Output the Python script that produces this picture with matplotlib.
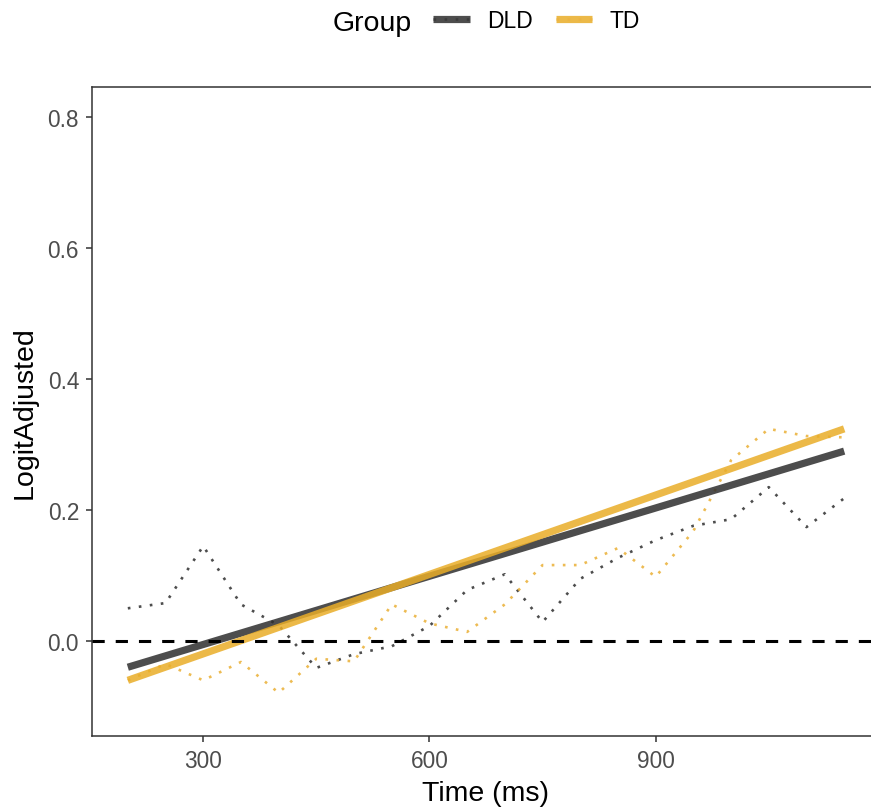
import matplotlib
matplotlib.use("Agg")
import matplotlib.pyplot as plt
from matplotlib.legend_handler import HandlerTuple

plt.rcParams['font.family'] = ['Liberation Sans', 'DejaVu Sans']

# time bins (ms)
time_ms = [200, 250, 300, 350, 400, 450, 500, 550, 600, 650,
           700, 750, 800, 850, 900, 950, 1000, 1050, 1100, 1150]

# mean adjusted logit per bin
dld_mean = [0.050, 0.058, 0.145, 0.056, 0.024, -0.041, -0.020, -0.008, 0.023, 0.078,
            0.102, 0.029, 0.095, 0.127, 0.154, 0.176, 0.186, 0.235, 0.174, 0.218]
td_mean = [-0.060, -0.035, -0.060, -0.032, -0.079, -0.027, -0.031, 0.056, 0.027, 0.014,
           0.056, 0.116, 0.116, 0.142, 0.098, 0.168, 0.276, 0.324, 0.313, 0.311]

# linear fit per group, value at first and last bin
fit_x = [200, 1150]
dld_fit = [-0.040, 0.290]
td_fit = [-0.060, 0.324]

groups = ['DLD', 'TD']
line_colors = {'DLD': '#2e2e2e', 'TD': '#e9ad28'}
dot_colors = {'DLD': '#3a3a3a', 'TD': '#ebb440'}

W, H = 871, 812
fig = plt.figure(figsize=(W / 100, H / 100), dpi=100)
ax = fig.add_axes([92 / W, 1 - 737 / H, 788 / W, 649 / H])

handles = []
for g, means, fit in [('DLD', dld_mean, dld_fit), ('TD', td_mean, td_fit)]:
    fl, = ax.plot(fit_x, fit, color=line_colors[g], lw=5.2, alpha=0.85,
                  solid_capstyle='butt', zorder=3)
    dl, = ax.plot(time_ms, means, color=dot_colors[g], lw=1.9, alpha=0.9,
                  dashes=(1, 3.2), zorder=2)
    handles.append((fl, dl))

ax.axhline(0, color='black', lw=2.2, dashes=(4, 3.6), zorder=4)

span = fit_x[1] - fit_x[0]
ax.set_xlim(fit_x[0] - 0.05 * span, fit_x[1] + 0.05 * span)
ax.set_ylim(-0.145, 0.846)
ax.set_xticks([300, 600, 900])
ax.set_yticks([0.0, 0.2, 0.4, 0.6, 0.8])
ax.set_yticklabels(['0.0', '0.2', '0.4', '0.6', '0.8'])

for s in ax.spines.values():
    s.set_color('#333333')
    s.set_linewidth(1.1)
ax.tick_params(colors='#333333', labelcolor='#4d4d4d', length=4.3, width=1.1,
               labelsize=16.3, pad=5)

ax.set_xlabel('Time (ms)', fontsize=20.5, color='black')
ax.xaxis.set_label_coords(0.5, -0.068)
fig.text(25 / W, 1 - 413 / H, 'LogitAdjusted', fontsize=20.5, rotation=90,
         ha='center', va='center')

# legend across the top
fig.text(333 / W, 1 - 31 / H, 'Group', fontsize=20.5, va='baseline', ha='left')
leg = fig.legend(handles, groups, handler_map={tuple: HandlerTuple(ndivide=1)},
                 loc='center left', bbox_to_anchor=(433 / W, 1 - 22 / H),
                 bbox_transform=fig.transFigure, ncol=2, frameon=False,
                 fontsize=16.5, handlelength=1.6, handletextpad=0.75,
                 columnspacing=1.0, borderpad=0, borderaxespad=0)

fig.savefig('out.png', dpi=100)
